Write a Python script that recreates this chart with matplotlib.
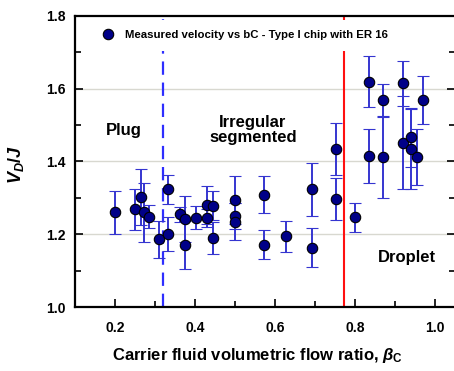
import numpy as np
import matplotlib
matplotlib.use("Agg")
import matplotlib.pyplot as plt
from matplotlib.lines import Line2D
from matplotlib.ticker import MultipleLocator

plt.rcParams['font.family'] = ['Liberation Sans', 'DejaVu Sans']
plt.rcParams['font.weight'] = 'bold'
plt.rcParams['mathtext.fontset'] = 'custom'
plt.rcParams['mathtext.rm'] = 'Liberation Sans:bold'
plt.rcParams['mathtext.it'] = 'Liberation Sans:italic:bold'
plt.rcParams['mathtext.bf'] = 'Liberation Sans:bold'

# carrier fluid ratio, measured V_D/J and error
bc = [0.200, 0.250, 0.265, 0.272, 0.286, 0.311, 0.333, 0.333, 0.363, 0.376,
      0.376, 0.402, 0.429, 0.429, 0.446, 0.446, 0.501, 0.501, 0.501, 0.573,
      0.573, 0.627, 0.692, 0.692, 0.752, 0.752, 0.800, 0.836, 0.836, 0.871,
      0.871, 0.919, 0.919, 0.939, 0.939, 0.956, 0.971]
vdj = [1.260, 1.269, 1.302, 1.260, 1.248, 1.186, 1.324, 1.200, 1.255, 1.243,
       1.170, 1.246, 1.280, 1.244, 1.278, 1.190, 1.294, 1.250, 1.235, 1.309,
       1.171, 1.194, 1.324, 1.163, 1.434, 1.296, 1.247, 1.619, 1.415, 1.568,
       1.413, 1.615, 1.452, 1.466, 1.434, 1.412, 1.569]
err = [0.060, 0.056, 0.076, 0.082, 0.032, 0.050, 0.040, 0.047, 0.020, 0.063,
       0.066, 0.032, 0.053, 0.025, 0.040, 0.044, 0.066, 0.035, 0.050, 0.050,
       0.040, 0.043, 0.073, 0.054, 0.072, 0.058, 0.040, 0.070, 0.074, 0.045,
       0.113, 0.062, 0.127, 0.080, 0.110, 0.077, 0.065]

plug_limit = 0.32
droplet_limit = 0.7725

fig = plt.figure(figsize=(4.54, 3.71), dpi=100)
ax = fig.add_axes([0.1652, 0.1725, 0.837, 0.7845])

ax.axhline(1.2, color='#d8d8d0', lw=1, zorder=0)
ax.axhline(1.4, color='#d8d8d0', lw=1, zorder=0)
ax.axhline(1.6, color='#d8d8d0', lw=1, zorder=0)

ax.axvline(plug_limit, color='#2e2eff', lw=1.6, ls=(0, (6, 3.5)), zorder=1)
ax.axvline(droplet_limit, color='#ff1010', lw=1.5, zorder=1)

ax.errorbar(bc, vdj, yerr=err, fmt='o', ms=7.5, mfc='#000088', mec='black',
            mew=0.8, ecolor='#3535d0', elinewidth=1.4, capsize=4.5,
            capthick=1.4, zorder=3)

handle = Line2D([], [], marker='o', ls='none', ms=7.5, mfc='#000088',
                mec='black', mew=0.8)
leg = ax.legend([handle], ['Measured velocity vs bC - Type I chip with ER 16'],
                loc='upper left', bbox_to_anchor=(0.035, 0.986),
                borderaxespad=0, borderpad=0.9, fontsize=8.2,
                handlelength=1.6, handletextpad=0.7,
                frameon=True, facecolor='white', edgecolor='none',
                framealpha=1, fancybox=False)
leg.set_zorder(5)

ax.text(0.221, 1.484, 'Plug', fontsize=12, fontweight='bold',
        ha='center', va='center')
ax.text(0.545, 1.487, 'Irregular\nsegmented', fontsize=12, fontweight='bold',
        ha='center', va='center', linespacing=1.0)
ax.text(0.929, 1.135, 'Droplet', fontsize=12, fontweight='bold',
        ha='center', va='center')

ax.set_xlim(0.1, 1.05)
ax.set_ylim(1.0, 1.8)
ax.set_xticks([0.2, 0.4, 0.6, 0.8, 1.0])
ax.set_yticks([1.0, 1.2, 1.4, 1.6, 1.8])
ax.xaxis.set_minor_locator(MultipleLocator(0.1))
ax.yaxis.set_minor_locator(MultipleLocator(0.1))
ax.tick_params(which='both', direction='in', right=True, width=1.2)
ax.tick_params(which='major', length=6)
ax.tick_params(which='minor', length=4)
ax.tick_params(axis='x', pad=10, labelsize=10)
ax.tick_params(axis='y', pad=7, labelsize=10)
for lab in ax.get_xticklabels() + ax.get_yticklabels():
    lab.set_fontweight('bold')

for s in ['left', 'bottom', 'top']:
    ax.spines[s].set_linewidth(1.6)
ax.spines['right'].set_visible(False)

ax.set_xlabel(r'Carrier fluid volumetric flow ratio, $\beta_{\mathrm{C}}$',
              fontsize=12, fontweight='bold')
ax.set_ylabel(r'$V_D/J$', fontsize=13)
ax.xaxis.set_label_coords(0.48, -0.135)
ax.yaxis.set_label_coords(-0.128, 0.49)

fig.savefig('out.png', dpi=100)
